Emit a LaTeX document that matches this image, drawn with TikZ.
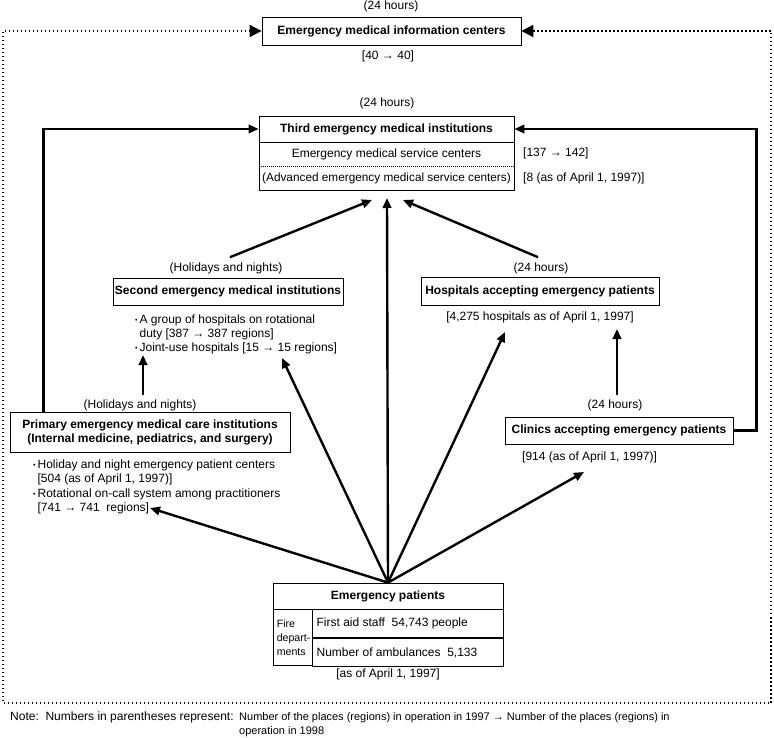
\documentclass[tikz,border=0pt]{standalone}
\usepackage{fontspec}
\setmainfont{Liberation Sans}
\usetikzlibrary{arrows.meta,calc}
\newcommand\mybul{{\fontsize{7}{7}\selectfont\raisebox{1pt}{•}}}
\begin{document}
\begin{tikzpicture}[x=1pt,y=-1pt,
  font=\fontsize{12}{14}\selectfont,
  box/.style={draw, line width=0.8pt, inner sep=0pt, font=\fontsize{12}{14}\selectfont\bfseries},
  cell/.style={draw, line width=0.8pt, inner sep=0pt},
  lbl/.style={inner sep=0pt},
  arr/.style={line width=2.4pt, -{Triangle[length=10pt,width=8.5pt]}},
  dotline/.style={line width=2pt, dash pattern=on 1.6pt off 2.4pt},
]
\useasboundingbox (0,0) rectangle (774,738);

% information centers
\node[lbl] (info24) at (391,6) {(24 hours)};
\node[box, minimum width=259pt, minimum height=28pt] (info) at (391.5,31) {Emergency medical information centers};
\node[lbl] (info40) at (388,56) {[40 → 40]};
\draw[dotline, {Triangle[length=12pt,width=12pt]}-{Triangle[length=12pt,width=12pt]}]
  (info.east) -- (771,31) -- (771,703) -- (3,703) -- (3,31) -- (info.west);

% third
\node[lbl] (th24) at (387,103) {(24 hours)};
\node[box, minimum width=255pt, minimum height=26pt] (third) at (386.5,129) {Third emergency medical institutions};
\node[box, minimum width=255pt, minimum height=48pt, anchor=north] (thirdsub) at (third.south) {};
\node[lbl] (ems) at (386.5,154) {Emergency medical service centers};
\node[lbl, font=\fontsize{11.8}{14}\selectfont] (aems) at (386.5,178) {(Advanced emergency medical service centers)};
\draw[line width=0.6pt, dash pattern=on 1pt off 1pt] (thirdsub.west) -- (thirdsub.east);
\node[lbl, anchor=west] (emsn) at (523,153) {[137 → 142]};
\node[lbl, anchor=west] (aemsn) at (523,178) {[8 (as of April 1, 1997)]};

% second
\node[lbl] (hol2) at (226,268) {(Holidays and nights)};
\node[box, minimum width=230pt, minimum height=27pt] (second) at (228,291.5) {Second emergency medical institutions};
\node[lbl, anchor=north west] (secb) at (135,313) {\begin{tabular}{@{}l@{\hspace{2pt}}l@{}}
\mybul & A group of hospitals on rotational\\
 & duty [387 → 387 regions]\\
\mybul & Joint-use hospitals [15 → 15 regions]\end{tabular}};

% hospitals
\node[lbl] (h24) at (541,268) {(24 hours)};
\node[box, minimum width=238pt, minimum height=28pt] (hosp) at (540,291) {Hospitals accepting emergency patients};
\node[lbl] (hospn) at (540,317) {[4,275 hospitals as of April 1, 1997]};

% clinics
\node[lbl] (c24) at (615,405) {(24 hours)};
\node[box, minimum width=228pt, minimum height=27pt] (clinic) at (619,430.5) {Clinics accepting emergency patients};
\node[lbl, anchor=west] (clinn) at (522,457) {[914 (as of April 1, 1997)]};

% primary
\node[lbl] (hol1) at (140,405) {(Holidays and nights)};
\node[box, minimum width=280pt, minimum height=40pt, align=center] (primary) at (150,432) {Primary emergency medical care institutions\\(Internal medicine, pediatrics, and surgery)};
\node[lbl, anchor=north west] (primb) at (33,458) {\begin{tabular}{@{}l@{\hspace{2pt}}l@{}}
\mybul & Holiday and night emergency patient centers\\[0.5pt]
 & [504 (as of April 1, 1997)]\\[0.5pt]
\mybul & Rotational on-call system among practitioners\\[0.5pt]
 & [741 → 741\ \ regions]\end{tabular}};

% patients
\node[box, minimum width=230pt, minimum height=26pt] (pat) at (388,596) {Emergency patients};
\node[cell, anchor=north west, minimum width=39pt, minimum height=56pt] (fire) at (pat.south west) {};
\node[lbl, anchor=west, align=left, font=\fontsize{10.6}{14}\selectfont] (firet) at ($(fire.west)+(4,0)$) {Fire\\depart-\\ments};
\node[cell, anchor=north west, minimum width=191pt, minimum height=28pt] (aid) at (fire.north east) {};
\node[lbl, anchor=west] (aidt) at ($(aid.west)+(4,0)$) {First aid staff\ \ 54,743 people};
\node[cell, anchor=north west, minimum width=191pt, minimum height=28pt] (amb) at (aid.south west) {};
\node[lbl, anchor=west] (ambt) at ($(amb.west)+(4,0)$) {Number of ambulances\ \ 5,133};
\node[lbl] (patn) at (388,674) {[as of April 1, 1997]};

% note
\node[lbl, anchor=west] (note) at (10,717) {Note:\ \ Numbers in parentheses represent:};
\node[lbl, anchor=north west, font=\fontsize{11}{14}\selectfont] (note2) at (239,710.5) {\begin{tabular}{@{}l@{}}
Number of the places (regions) in operation in 1997 → Number of the places (regions) in\\
operation in 1998\end{tabular}};

% tip coordinates
\coordinate (tipTL) at (372,200);
\coordinate (tipT) at (387,198);
\coordinate (tipTR) at (403,200);
\coordinate (tipP) at (150,508);
\coordinate (tipS) at (282,358);
\coordinate (tipH) at (505,332);
\coordinate (tipC) at (584,472);
\coordinate (tipSec) at (143,355);
\coordinate (tipHosp) at (617,329);

% connectors
\draw[arr] ($(hol2.north)+(4,-5)$) -- (tipTL);
\draw[arr] ($(h24.north)+(-3,-5)$) -- (tipTR);
\draw[arr] (pat.north) -- (tipT);
\draw[arr] (pat.north) -- (tipP);
\draw[arr] (pat.north) -- (tipS);
\draw[arr] (pat.north) -- (tipH);
\draw[arr] (pat.north) -- (tipC);
\draw[arr] ($(hol1.north)+(3,-4)$) -- (tipSec);
\draw[arr] ($(c24.north)+(2,-4)$) -- (tipHosp);
\draw[arr] ($(primary.north west)+(34,0)$) |- (third.west);
\draw[arr] (clinic.east) -- ++(23,0) |- (third.east);
\end{tikzpicture}
\end{document}
